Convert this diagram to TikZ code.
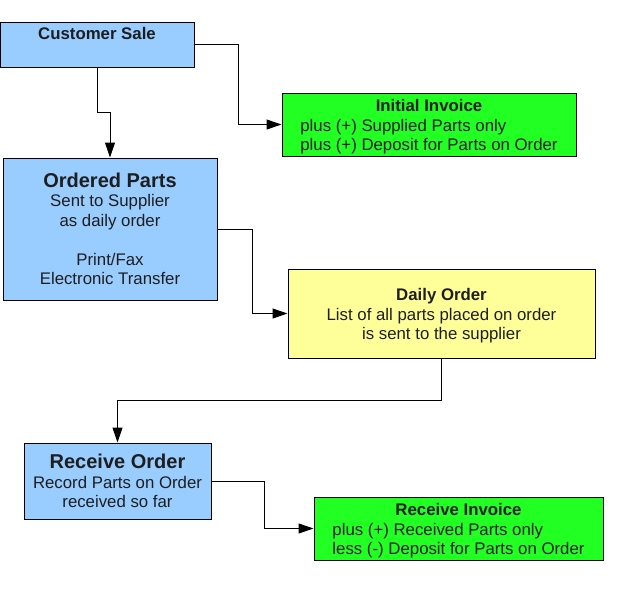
\documentclass[tikz,border=0pt]{standalone}
\usepackage{fontspec}
\setmainfont{Liberation Sans}
\usepackage{xcolor}
\usepackage{tikz}
\usetikzlibrary{arrows.meta,positioning}
\definecolor{bluefill}{HTML}{99CCFF}
\definecolor{greenfill}{HTML}{22FF22}
\definecolor{yellowfill}{HTML}{FFFF99}
\definecolor{textgray}{HTML}{1E1E1E}
\tikzset{
  stage/.style={draw=black, line width=1pt, align=center, fill=bluefill, inner sep=0pt, text=textgray, font=\fontsize{16.8}{19.5}\selectfont},
  invoice/.style={draw=black, line width=1pt, align=left, fill=greenfill, inner sep=0pt, text=textgray, font=\fontsize{16.8}{19.5}\selectfont},
  dailybox/.style={draw=black, line width=1pt, align=center, fill=yellowfill, inner sep=0pt, text=textgray, font=\fontsize{16.8}{19.5}\selectfont},
  arrow/.style={-{Triangle[length=15pt,width=10pt]}, line width=1pt, draw=black}
}
\newcommand{\bigtitle}[1]{{\fontsize{20}{22}\selectfont\bfseries #1}}
% title centred, other lines flush left; text set a little low as in the original
\newcommand{\invoicetext}[3]{\raisebox{-3pt}[\height][\depth]{\begin{tabular}{@{}l@{}}\multicolumn{1}{@{}c@{}}{\bfseries #1}\\#2\\#3\end{tabular}}}
\newcommand{\dailytext}[3]{\raisebox{-3pt}[\height][\depth]{\begin{tabular}{@{}c@{}}{\bfseries #1}\\#2\\#3\end{tabular}}}

\begin{document}
\begin{tikzpicture}[x=1pt, y=-1pt]
  \useasboundingbox (0,0) rectangle (635,597);

  \node[stage, minimum width=194pt, minimum height=45pt, text height=13pt, text depth=24pt] (sale) at (97,44.5) {\bfseries Customer Sale};
  \node[invoice, minimum width=294pt, minimum height=63pt] (initial) at (429,124.5)
    {\invoicetext{Initial Invoice}{plus (+) Supplied Parts only}{plus (+) Deposit for Parts on Order}};
  \node[stage, minimum width=214pt, minimum height=142pt] (ordered) at (110,229)
    {\bigtitle{Ordered Parts}\\Sent to Supplier\\as daily order\\[19.5pt]Print/Fax\\Electronic Transfer};
  \node[dailybox, minimum width=307pt, minimum height=89pt] (daily) at (441.5,313.5)
    {\dailytext{Daily Order}{List of all parts placed on order}{is sent to the supplier}};
  \node[stage, minimum width=187pt, minimum height=76pt] (receive) at (117.5,481)
    {\bigtitle{Receive Order}\\Record Parts on Order\\received so far};
  \node[invoice, minimum width=289pt, minimum height=63pt] (rinvoice) at (458.5,528.5)
    {\invoicetext{Receive Invoice}{plus (+) Received Parts only}{less (-) Deposit for Parts on Order}};

  \draw[arrow] (sale.east) -- ++(44,0) |- (initial.west);
  \draw[arrow] (sale.south) -- ++(0,45) -| (ordered.north);
  \draw[arrow] (ordered.east) -- ++(35,0) |- (daily.west);
  \draw[arrow] (daily.south) -- ++(0,42) -| (receive.north);
  \draw[arrow] (receive.east) -- ++(53,0) |- (rinvoice.west);
\end{tikzpicture}
\end{document}
